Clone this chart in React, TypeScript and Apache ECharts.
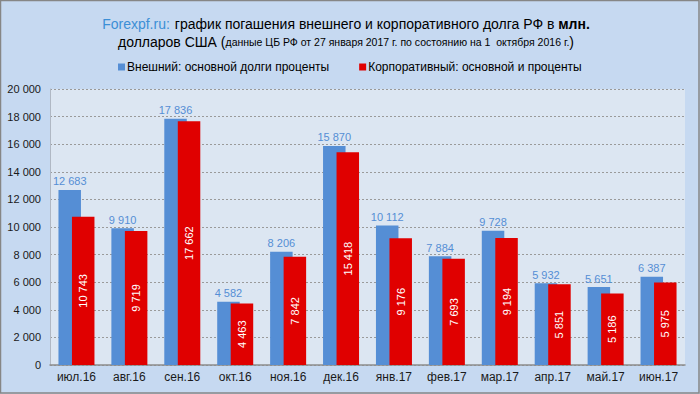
import React, { useEffect, useRef } from "react";
import * as echarts from "echarts";

const categories = ["июл.16", "авг.16", "сен.16", "окт.16", "ноя.16", "дек.16", "янв.17", "фев.17", "мар.17", "апр.17", "май.17", "июн.17"];
const externalDebt = [12683, 9910, 17836, 4582, 8206, 15870, 10112, 7884, 9728, 5932, 5651, 6387];
const corporateDebt = [10743, 9719, 17662, 4463, 7842, 15418, 9176, 7693, 9194, 5851, 5186, 5975];
const seriesNames = ["Внешний: основной долги проценты", "Корпоративный: основной и проценты"];

const fmt = (v: number) => String(v).replace(/\B(?=(\d{3})+(?!\d))/g, " ");
const FONT = "'Liberation Sans', Arial, sans-serif";

export default function App() {
  const ref = useRef<HTMLDivElement>(null);
  useEffect(() => {
    const chart = echarts.init(ref.current!, null, { renderer: "svg" });
    chart.setOption({
      animation: false,
      backgroundColor: "#c6d9f1",
      textStyle: { fontFamily: FONT },
      graphic: [
        {
          type: "rect",
          shape: { x: 0.5, y: 0.5, width: 698.5, height: 392.5 },
          style: { fill: "none", stroke: "#868686", lineWidth: 1.5 },
          silent: true,
        },
      ],
      title: {
        left: 341,
        textAlign: "center",
        top: 10,
        text: "{blue|Forexpf.ru:} {n|график погашения внешнего и корпоративного долга РФ в }{b|млн.}\n{n|долларов США }{n|(}{s|данные ЦБ РФ от 27 января 2017 г. по состоянию на 1  октября 2016 г.}{n|)}",
        textStyle: {
          fontWeight: "normal",
          rich: {
            blue: { color: "#3c8fd6", fontSize: 14, fontFamily: FONT, fontWeight: "normal", lineHeight: 18 },
            n: { color: "#000", fontSize: 14, fontFamily: FONT, fontWeight: "normal", lineHeight: 18 },
            b: { color: "#000", fontSize: 14, fontFamily: FONT, fontWeight: "bold", lineHeight: 18 },
            s: { color: "#000", fontSize: 10.5, fontFamily: FONT, fontWeight: "normal", lineHeight: 18 },
          },
        },
      },
      legend: {
        left: 113,
        top: 56,
        icon: "rect",
        itemWidth: 7,
        itemHeight: 7,
        itemGap: 30,
        textStyle: { fontSize: 12, color: "#000", fontFamily: FONT, padding: [0, 0, 0, -3] },
        data: seriesNames,
      },
      grid: {
        left: 50,
        right: 15,
        top: 89,
        bottom: 29,
        show: true,
        backgroundColor: "#dce6f2",
        borderWidth: 0,
      },
      xAxis: {
        type: "category",
        data: categories,
        axisTick: { show: false },
        axisLine: { lineStyle: { color: "#8c8c8c", width: 1.5 } },
        axisLabel: { color: "#1a1a1a", fontSize: 12, fontFamily: FONT, margin: 6 },
      },
      yAxis: {
        type: "value",
        min: 0,
        max: 20000,
        interval: 2000,
        axisLine: { show: true, lineStyle: { color: "#b0b8c4", width: 1 } },
        axisTick: { show: false },
        splitLine: { lineStyle: { color: "#9a9a9a", type: [2, 2], width: 1 } },
        axisLabel: { color: "#1a1a1a", fontSize: 11, fontFamily: FONT, margin: 9, formatter: (v: number) => fmt(v) },
      },
      series: [
        {
          name: seriesNames[0],
          type: "bar",
          data: externalDebt,
          barWidth: 22.5,
          barGap: "-40%",
          itemStyle: { color: "#558ed5" },
          label: {
            show: true,
            position: "top",
            distance: 3,
            color: "#558ed5",
            fontSize: 11,
            fontFamily: FONT,
            formatter: (p: any) => fmt(p.value),
          },
        },
        {
          name: seriesNames[1],
          type: "bar",
          data: corporateDebt,
          barWidth: 22.5,
          itemStyle: { color: "#e00000" },
          label: {
            show: true,
            position: "inside",
            rotate: 90,
            color: "#ffffff",
            fontSize: 11,
            fontFamily: FONT,
            formatter: (p: any) => fmt(p.value),
          },
        },
      ],
    });
    return () => chart.dispose();
  }, []);
  return (
    <div
      ref={ref}
      style={{ position: "fixed", left: 0, top: 0, width: 700, height: 394 }}
    />
  );
}
